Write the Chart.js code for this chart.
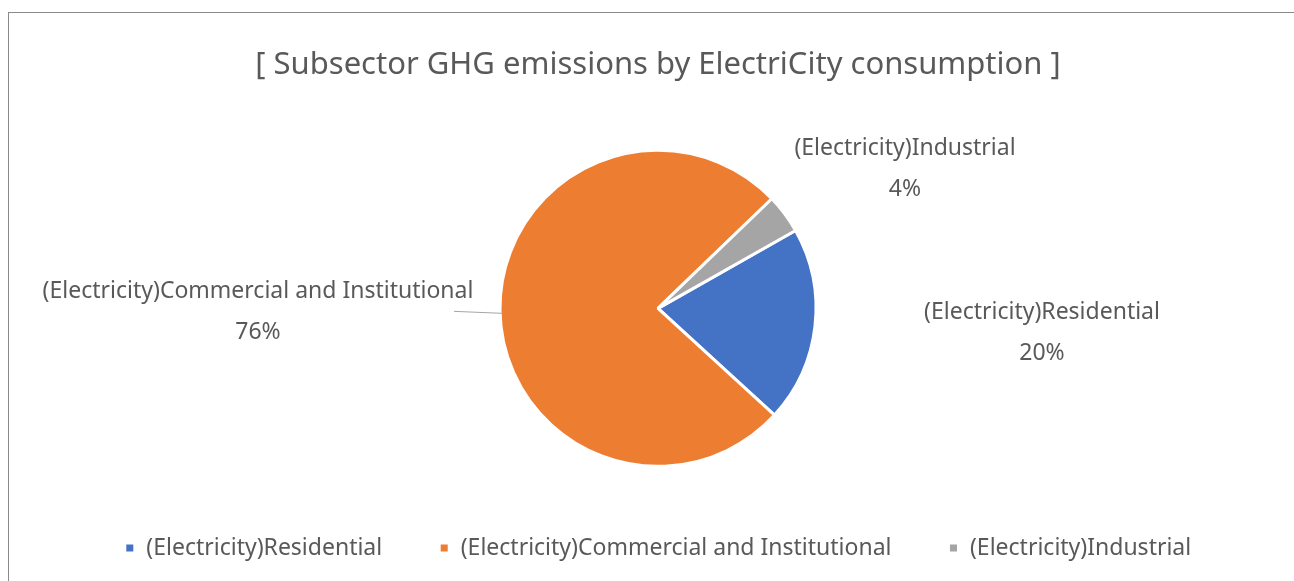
<!DOCTYPE html>
<html>
<head>
<meta charset="utf-8">
<script src="https://cdn.jsdelivr.net/npm/chart.js@4/dist/chart.umd.min.js"></script>
<style>
  html, body { margin: 0; padding: 0; background: #fff; }
  #wrap { width: 1294px; height: 581px; }
</style>
</head>
<body>
<div id="wrap"><canvas id="ghgChart" width="1294" height="581"></canvas></div>
<script>
// Subsector shares of electricity emissions (%)
const categories = [
    '(Electricity)Residential',
    '(Electricity)Commercial and Institutional',
    '(Electricity)Industrial'
];
const shares = [20, 76, 4];
const sliceColors = ['#4472C4', '#ED7D31', '#A5A5A5'];
const chartTitle = '[ Subsector GHG emissions by ElectriCity consumption ]';

const FONT = "'Noto Sans', 'Open Sans', sans-serif";
const TEXT_COLOR = '#595959';

// where each outside label sits, relative to the pie centre
const labelOffsets = [
    { dx: 384, dy: 4 },
    { dx: -400, dy: -17, leader: true },
    { dx: 247, dy: -160 }
];

// outer frame around the whole chart
const framePlugin = {
    id: 'frame',
    beforeDraw(chart) {
        const ctx = chart.ctx;
        ctx.save();
        ctx.fillStyle = '#fff';
        ctx.fillRect(0, 0, chart.width, chart.height);
        ctx.strokeStyle = '#8a8a8a';
        ctx.lineWidth = 1;
        ctx.strokeRect(8.5, 12.5, chart.width + 20, chart.height + 40);
        ctx.restore();
    }
};

// category name + percentage next to each slice
const outsideLabels = {
    id: 'outsideLabels',
    afterDatasetsDraw(chart) {
        const ctx = chart.ctx;
        const meta = chart.getDatasetMeta(0);
        const total = shares.reduce((a, b) => a + b, 0);
        ctx.save();
        ctx.font = '23px ' + FONT;
        ctx.fillStyle = TEXT_COLOR;
        ctx.textAlign = 'center';
        ctx.textBaseline = 'middle';
        meta.data.forEach((arc, i) => {
            const off = labelOffsets[i];
            const x = arc.x + off.dx;
            const y = arc.y + off.dy;
            ctx.fillText(categories[i], x, y);
            ctx.fillText(Math.round(shares[i] / total * 100) + '%', x, y + 41);
            if (off.leader) {
                const edgeX = arc.x - arc.outerRadius + 3;
                ctx.strokeStyle = '#A6A6A6';
                ctx.lineWidth = 1;
                ctx.beginPath();
                ctx.moveTo(x + 196, y + 20);
                ctx.lineTo(edgeX, arc.y + 5);
                ctx.stroke();
            }
        });
        ctx.restore();
    }
};

new Chart(document.getElementById('ghgChart'), {
    type: 'pie',
    data: {
        labels: categories,
        datasets: [{
            data: shares,
            backgroundColor: sliceColors,
            borderColor: '#ffffff',
            borderWidth: 3,
            radius: 158
        }]
    },
    options: {
        responsive: false,
        animation: false,
        rotation: 60.5,
        layout: { padding: { left: 22, right: 0, top: 0, bottom: 11.5 } },
        plugins: {
            title: {
                display: true,
                text: chartTitle,
                color: TEXT_COLOR,
                font: { family: FONT, size: 31, weight: 'normal' },
                padding: { top: 47, bottom: 53 }
            },
            legend: {
                position: 'bottom',
                labels: {
                    color: TEXT_COLOR,
                    font: { family: FONT, size: 23 },
                    boxWidth: 10,
                    boxHeight: 10,
                    padding: 57
                }
            },
            tooltip: { enabled: false }
        }
    },
    plugins: [framePlugin, outsideLabels]
});
</script>
</body>
</html>
